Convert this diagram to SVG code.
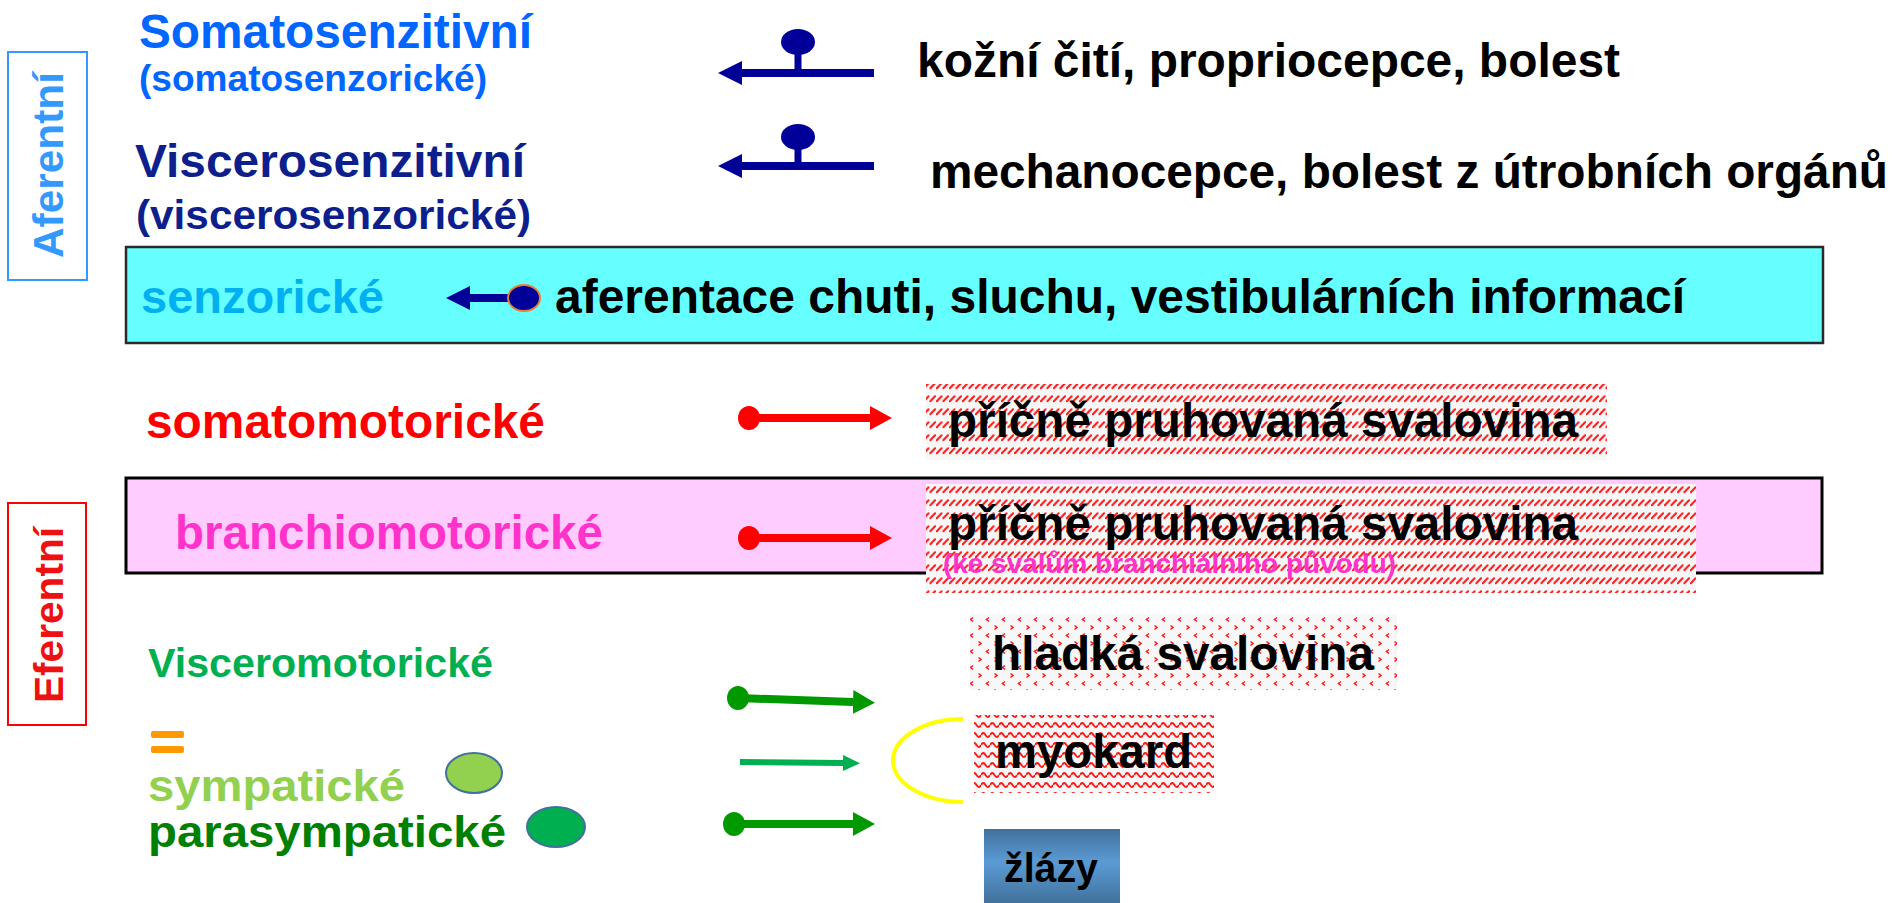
<svg xmlns="http://www.w3.org/2000/svg" width="1898" height="903" viewBox="0 0 1898 903">
  <defs>
    <style>
      text { font-family: "Liberation Sans", Arial, sans-serif; font-weight: bold; }
      .big { font-size: 48px; }
      .black { fill: #000000; }
      .frame { fill: #ffffff; stroke-width: 2; }
      .navy { stroke: #000099; fill: none; stroke-width: 8; }
      .red { stroke: #ff0000; fill: none; stroke-width: 8; }
      .green { stroke: #009a00; fill: none; stroke-width: 8; }
      .lgreen { stroke: #00b050; fill: none; stroke-width: 6; }
      .dotRed { fill: #ff0000; }
      .dotGreen { fill: #009a00; }
      .knob { fill: #000099; }
      .legend { stroke: #41719c; stroke-width: 2; }
    </style>
    <!-- striated muscle: dashed upward diagonal -->
    <pattern id="hatch" width="6.5" height="13" patternUnits="userSpaceOnUse">
      <rect width="6.5" height="13" fill="#f7f7f7"/>
      <path d="M0.8,11.2 L5.6,6.2" stroke="#ff1a1a" stroke-width="2" stroke-linecap="round"/>
    </pattern>
    <!-- smooth muscle: divot marks -->
    <pattern id="divot" width="16" height="16" patternUnits="userSpaceOnUse">
      <rect width="16" height="16" fill="#f7f7f7"/>
      <path d="M2.5,1.5 L5,3.5 L2.5,5.5 M13,9.5 L10.5,11.5 L13,13.5" stroke="#ff1a1a" stroke-width="1.6" fill="none"/>
    </pattern>
    <!-- cardiac muscle: waves -->
    <pattern id="wave" width="9" height="10" patternUnits="userSpaceOnUse">
      <rect width="9" height="10" fill="#f7f7f7"/>
      <path d="M0,5 Q2.25,1 4.5,5 Q6.75,9 9,5" stroke="#ff1a1a" stroke-width="1.9" fill="none"/>
    </pattern>
    <linearGradient id="gland" x1="0" y1="0" x2="0" y2="1">
      <stop offset="0" stop-color="#41719c"/>
      <stop offset="0.45" stop-color="#5b9bd5"/>
      <stop offset="1" stop-color="#41719c"/>
    </linearGradient>
    <marker id="headNavy" viewBox="0 0 24 24" refX="0" refY="12" markerWidth="24" markerHeight="24" markerUnits="userSpaceOnUse" orient="auto">
      <path d="M0,0 L24,12 L0,24 Z" fill="#000099"/>
    </marker>
    <marker id="headRed" viewBox="0 0 22 24" refX="0" refY="12" markerWidth="22" markerHeight="24" markerUnits="userSpaceOnUse" orient="auto">
      <path d="M0,0 L22,12 L0,24 Z" fill="#ff0000"/>
    </marker>
    <marker id="headGreen" viewBox="0 0 22 24" refX="0" refY="12" markerWidth="22" markerHeight="24" markerUnits="userSpaceOnUse" orient="auto">
      <path d="M0,0 L22,12 L0,24 Z" fill="#009a00"/>
    </marker>
    <marker id="headLight" viewBox="0 0 17 16" refX="0" refY="8" markerWidth="17" markerHeight="16" markerUnits="userSpaceOnUse" orient="auto">
      <path d="M0,0 L17,8 L0,16 Z" fill="#00b050"/>
    </marker>
  </defs>

  <rect width="1898" height="903" fill="#ffffff"/>

  <!-- side labels -->
  <g id="aferentni">
    <rect class="frame" x="8" y="52" width="79" height="228" stroke="#3399ff"/>
    <text transform="translate(63,165) rotate(-90)" text-anchor="middle" font-size="42" fill="#3399ff" textLength="186" lengthAdjust="spacingAndGlyphs">Aferentní</text>
  </g>
  <g id="eferentni">
    <rect class="frame" x="8" y="503" width="78" height="222" stroke="#ff0000"/>
    <text transform="translate(63,615) rotate(-90)" text-anchor="middle" font-size="41" fill="#ee1111" textLength="176" lengthAdjust="spacingAndGlyphs">Eferentní</text>
  </g>

  <!-- band backgrounds -->
  <g id="senzoricke-band">
    <rect x="126" y="247" width="1697" height="96" fill="#66ffff" stroke="#2a2a2a" stroke-width="2.5"/>
  </g>
  <g id="branchio-band">
    <rect x="126" y="478" width="1696" height="95" fill="#ffccff" stroke="#000000" stroke-width="3"/>
  </g>

  <!-- fibre types -->
  <g id="somatosenzitivni">
    <text x="139" y="48" font-size="48" fill="#0066ff" textLength="393" lengthAdjust="spacingAndGlyphs">Somatosenzitivní</text>
    <text x="139" y="91" font-size="36" fill="#0066ff" textLength="348" lengthAdjust="spacingAndGlyphs">(somatosenzorické)</text>
  </g>
  <g id="viscerosenzitivni">
    <text x="135" y="177" font-size="47" fill="#0d1f8c" textLength="390" lengthAdjust="spacingAndGlyphs">Viscerosenzitivní</text>
    <text x="136" y="229" font-size="40" fill="#0d1f8c" textLength="395" lengthAdjust="spacingAndGlyphs">(viscerosenzorické)</text>
  </g>
  <g id="senzoricke">
    <text x="141" y="313" font-size="47" fill="#00b0f0" textLength="243" lengthAdjust="spacingAndGlyphs">senzorické</text>
  </g>
  <g id="somatomotoricke">
    <text x="146" y="438" font-size="48" fill="#ff0000" textLength="399" lengthAdjust="spacingAndGlyphs">somatomotorické</text>
  </g>
  <g id="branchiomotoricke">
    <text x="175" y="549" font-size="48" fill="#ff33cc" textLength="428" lengthAdjust="spacingAndGlyphs">branchiomotorické</text>
  </g>
  <g id="visceromotoricke">
    <text x="148" y="677" font-size="41" fill="#00b050" textLength="345" lengthAdjust="spacingAndGlyphs">Visceromotorické</text>
    <rect x="151" y="731" width="33" height="7" rx="2" fill="#ff9900"/>
    <rect x="151" y="746" width="33" height="7" rx="2" fill="#ff9900"/>
  </g>
  <g id="sympaticke">
    <text x="148" y="801" font-size="45" fill="#92d050" textLength="257" lengthAdjust="spacingAndGlyphs">sympatické</text>
    <ellipse class="legend" cx="474" cy="773" rx="28" ry="20" fill="#92d050"/>
  </g>
  <g id="parasympaticke">
    <text x="148" y="847" font-size="45" fill="#008000" textLength="358" lengthAdjust="spacingAndGlyphs">parasympatické</text>
    <ellipse class="legend" cx="556" cy="827" rx="29" ry="20" fill="#00b050"/>
  </g>

  <!-- targets -->
  <g id="kozni-citi">
    <text class="big black" x="917" y="77" textLength="703" lengthAdjust="spacingAndGlyphs">kožní čití, propriocepce, bolest</text>
  </g>
  <g id="mechanocepce">
    <text class="big black" x="930" y="188" textLength="958" lengthAdjust="spacingAndGlyphs">mechanocepce, bolest z útrobních orgánů</text>
  </g>
  <g id="aferentace">
    <text class="big black" x="555" y="313" textLength="1130" lengthAdjust="spacingAndGlyphs">aferentace chuti, sluchu, vestibulárních informací</text>
  </g>
  <g id="pricne-1">
    <rect x="926" y="384" width="681" height="76" fill="url(#hatch)"/>
    <text class="big black" x="948" y="437" textLength="630" lengthAdjust="spacingAndGlyphs">příčně pruhovaná svalovina</text>
  </g>
  <g id="pricne-2">
    <rect x="926" y="484" width="770" height="109" fill="url(#hatch)"/>
    <text class="big black" x="948" y="540" textLength="630" lengthAdjust="spacingAndGlyphs">příčně pruhovaná svalovina</text>
    <text x="943" y="573" font-size="28" fill="#ff33cc" textLength="453" lengthAdjust="spacingAndGlyphs">(ke svalům branchiálního původu)</text>
  </g>
  <g id="hladka">
    <rect x="970" y="614" width="427" height="76" fill="url(#divot)"/>
    <text class="big black" x="992" y="670" textLength="382" lengthAdjust="spacingAndGlyphs">hladká svalovina</text>
  </g>
  <g id="myokard">
    <rect x="974" y="715" width="240" height="78" fill="url(#wave)"/>
    <text class="big black" x="995" y="768" textLength="197" lengthAdjust="spacingAndGlyphs">myokard</text>
  </g>
  <g id="zlazy">
    <rect x="984" y="829" width="136" height="74" fill="url(#gland)"/>
    <text x="1004" y="882" font-size="40" fill="#000000" textLength="94" lengthAdjust="spacingAndGlyphs">žlázy</text>
  </g>

  <!-- connectors -->
  <g id="connectors">
    <!-- afferent receptors -->
    <path class="navy" d="M874,73 H742" marker-end="url(#headNavy)"/>
    <path d="M798,73 V48" stroke="#000099" stroke-width="7"/>
    <ellipse class="knob" cx="798" cy="42" rx="17" ry="13"/>

    <path class="navy" d="M874,166 H742" marker-end="url(#headNavy)"/>
    <path d="M798,166 V141" stroke="#000099" stroke-width="7"/>
    <ellipse class="knob" cx="798" cy="137" rx="17" ry="13"/>

    <path class="navy" d="M510,298 H470" stroke-width="7" marker-end="url(#headNavy)"/>
    <ellipse cx="524" cy="298" rx="16" ry="13" fill="#000099" stroke="#ed7d31" stroke-width="2"/>

    <!-- motor outputs -->
    <path class="red" d="M749,418 H870" marker-end="url(#headRed)"/>
    <ellipse class="dotRed" cx="749" cy="418" rx="11" ry="12"/>

    <path class="red" d="M749,538 H870" marker-end="url(#headRed)"/>
    <ellipse class="dotRed" cx="749" cy="538" rx="11" ry="12"/>

    <path class="green" d="M738,698 L853,702" marker-end="url(#headGreen)"/>
    <ellipse class="dotGreen" cx="738" cy="698" rx="11" ry="12"/>

    <path class="lgreen" d="M740,762 L843,763" marker-end="url(#headLight)"/>

    <path class="green" d="M734,824 H853" marker-end="url(#headGreen)"/>
    <ellipse class="dotGreen" cx="734" cy="824" rx="11" ry="12"/>

    <!-- heart bracket -->
    <path d="M963,719 A70,41.5 0 0 0 963,802" fill="none" stroke="#ffff00" stroke-width="4"/>
  </g>
</svg>
